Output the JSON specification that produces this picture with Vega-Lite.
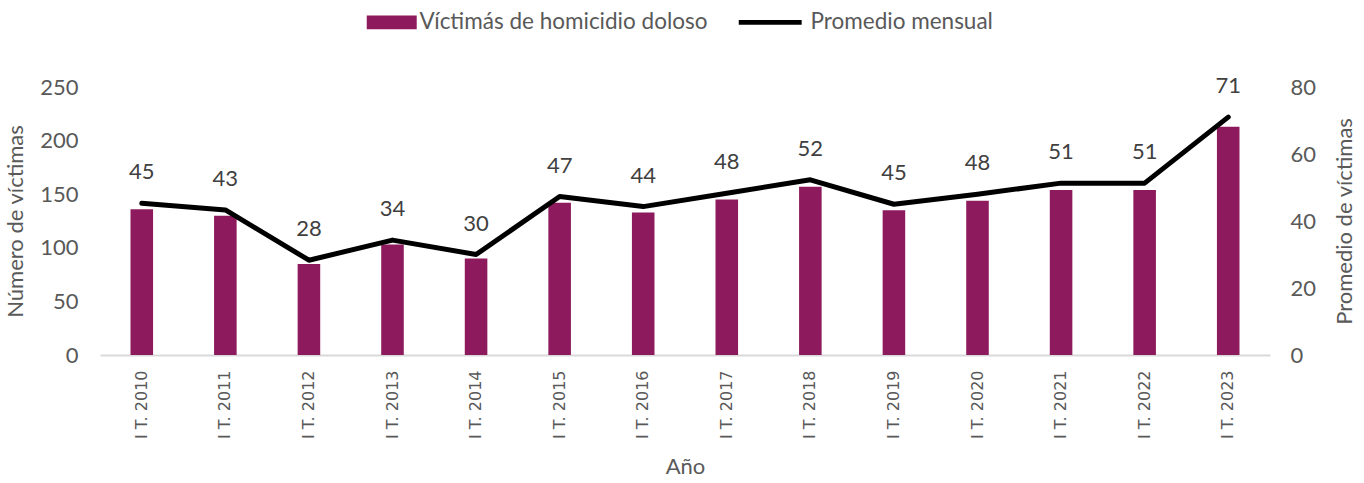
{
  "$schema": "https://vega.github.io/schema/vega-lite/v6.json",
  "width": 1170,
  "height": 268,
  "padding": {"left": 4, "top": 11, "right": 5, "bottom": 5},
  "background": "white",
  "config": {
    "view": {"stroke": null},
    "font": "Lato",
    "axis": {"labelColor": "#595959", "titleColor": "#595959", "titleFontWeight": "normal", "grid": false, "ticks": false, "tickSize": 0}
  },
  "data": {"values": [
    {"periodo": "I T. 2010", "victimas": 136, "promedio": 45.3},
    {"periodo": "I T. 2011", "victimas": 130, "promedio": 43.3},
    {"periodo": "I T. 2012", "victimas": 85, "promedio": 28.3},
    {"periodo": "I T. 2013", "victimas": 103, "promedio": 34.3},
    {"periodo": "I T. 2014", "victimas": 90, "promedio": 30},
    {"periodo": "I T. 2015", "victimas": 142, "promedio": 47.3},
    {"periodo": "I T. 2016", "victimas": 133, "promedio": 44.3},
    {"periodo": "I T. 2017", "victimas": 145, "promedio": 48.3},
    {"periodo": "I T. 2018", "victimas": 157, "promedio": 52.3},
    {"periodo": "I T. 2019", "victimas": 135, "promedio": 45},
    {"periodo": "I T. 2020", "victimas": 144, "promedio": 48},
    {"periodo": "I T. 2021", "victimas": 154, "promedio": 51.3},
    {"periodo": "I T. 2022", "victimas": 154, "promedio": 51.3},
    {"periodo": "I T. 2023", "victimas": 213, "promedio": 71}
  ]},
  "layer": [
    {
      "mark": {"type": "bar", "color": "#8E1A5E"},
      "encoding": {
        "x": {"field": "periodo", "type": "nominal", "sort": null,
          "scale": {"paddingInner": 0.73, "paddingOuter": 0.365},
          "axis": {"title": "Año", "labelAngle": -90, "labelFont": "DejaVu Sans", "labelFontSize": 16, "titleFontSize": 22, "domainColor": "#D9D9D9", "domainWidth": 2, "labelPadding": 15, "titlePadding": 18}},
        "y": {"field": "victimas", "type": "quantitative", "scale": {"domain": [0, 250]},
          "axis": {"title": "Número de víctimas", "values": [0, 50, 100, 150, 200, 250], "domain": false, "labelFontSize": 22, "titleFontSize": 22, "labelPadding": 22, "titlePadding": 12}}
      }
    },
    {
      "encoding": {
        "x": {"field": "periodo", "type": "nominal", "sort": null},
        "y": {"field": "promedio", "type": "quantitative", "scale": {"domain": [0, 80]},
          "axis": {"orient": "right", "title": "Promedio de víctimas", "titleAngle": -90, "titleBaseline": "top", "values": [0, 20, 40, 60, 80], "domain": false, "labelFontSize": 22, "titleFontSize": 22, "labelPadding": 20, "titlePadding": 19}}
      },
      "layer": [
        {"mark": {"type": "line", "color": "#000000", "strokeWidth": 5, "strokeJoin": "round", "strokeCap": "round"}},
        {"mark": {"type": "text", "dy": -31, "fontSize": 22, "color": "#404040"},
          "encoding": {"text": {"field": "promedio", "type": "quantitative", "format": ".0f"}}}
      ]
    },
    {
      "data": {"values": [
        {"serie": "Víctimás de homicidio doloso"},
        {"serie": "Promedio mensual"}
      ]},
      "mark": {"type": "point", "filled": true, "opacity": 0},
      "encoding": {
        "color": {"field": "serie", "type": "nominal",
          "scale": {"domain": ["Víctimás de homicidio doloso", "Promedio mensual"], "range": ["#8E1A5E", "#000000"]},
          "legend": {"title": null, "orient": "none", "legendX": 265, "legendY": -76, "direction": "horizontal", "symbolOpacity": 1, "symbolSize": 484, "symbolStrokeWidth": 0, "labelFontSize": 22.5, "labelColor": "#595959", "labelOffset": 32, "columnPadding": 30, "padding": 0, "labelLimit": 500}},
        "shape": {"field": "serie", "type": "nominal",
          "scale": {"domain": ["Víctimás de homicidio doloso", "Promedio mensual"], "range": ["M-0.864,-0.636H3.68V0.636H-0.864Z", "M-2.59,-0.227H3.13V0.227H-2.59Z"]},
          "legend": {"title": null, "orient": "none", "legendX": 265, "legendY": -76, "direction": "horizontal", "symbolOpacity": 1, "symbolSize": 484, "symbolStrokeWidth": 0, "labelFontSize": 22.5, "labelColor": "#595959", "labelOffset": 32, "columnPadding": 30, "padding": 0, "labelLimit": 500}}
      }
    }
  ],
  "resolve": {"scale": {"y": "independent"}}
}
